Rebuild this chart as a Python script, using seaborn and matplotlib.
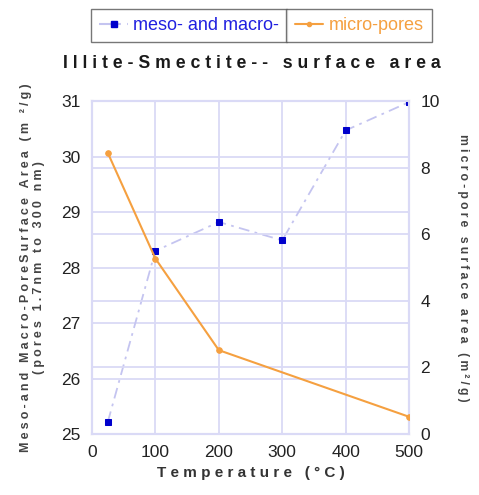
import matplotlib
matplotlib.use("Agg")
import matplotlib.pyplot as plt
import seaborn as sns
from matplotlib.lines import Line2D

# ---------------------------------------------------------
# Data
# ---------------------------------------------------------
temp_meso = [25, 100, 200, 300, 400, 500]
meso_macro_area = [25.22, 28.30, 28.82, 28.49, 30.47, 30.98]

temp_micro = [25, 100, 200, 500]
micro_area = [8.44, 5.27, 2.52, 0.52]

x_ticks = [0, 100, 200, 300, 400, 500]
left_ticks = [25, 26, 27, 28, 29, 30, 31]
right_ticks = [0, 2, 4, 6, 8, 10]

GRID = "#dadaf6"
BLUE = "#0000cc"
BLUE_LINE = "#c4c4f0"
ORANGE = "#f5a040"
FONT = ["Liberation Sans", "DejaVu Sans"]


def spaced(text, sep="\u2009"):
    # the original uses wide letter tracking on titles and labels
    return sep.join(text)


sns.set_theme(style="white")
plt.rcParams["font.family"] = FONT

fig = plt.figure(figsize=(4.79, 4.95), dpi=100)
ax = fig.add_axes([0.192, 0.123, 0.662, 0.673])
ax2 = ax.twinx()

sns.lineplot(x=temp_meso, y=meso_macro_area, ax=ax, color=BLUE_LINE,
             linestyle=(0, (6, 3, 1.5, 3)), linewidth=1.3,
             marker="s", markersize=4.5, markerfacecolor=BLUE,
             markeredgecolor=BLUE, zorder=3)
sns.lineplot(x=temp_micro, y=micro_area, ax=ax2, color=ORANGE,
             linewidth=1.5, marker="o", markersize=4,
             markerfacecolor=ORANGE, markeredgecolor=ORANGE, zorder=3)

ax.set_xlim(0, 500)
ax.set_ylim(25, 31)
ax2.set_ylim(0, 10)
ax.set_xticks(x_ticks)
ax.set_yticks(left_ticks)
ax2.set_yticks(right_ticks)

ax.grid(True, axis="x", color=GRID, linewidth=1.3)
for y in left_ticks[1:-1]:
    ax.axhline(y, color=GRID, linewidth=1.3, zorder=0)
ax2.grid(True, axis="y", color=GRID, linewidth=1.3)
ax.set_axisbelow(True)
ax2.set_axisbelow(True)

for a in (ax, ax2):
    for sp in a.spines.values():
        sp.set_color(GRID)
        sp.set_linewidth(1.5)
    a.tick_params(length=0, labelsize=12.5, labelcolor="#222222", pad=8)

ax.set_xlabel(spaced("Temperature (°C)", " "), fontsize=11,
              fontweight="bold", color="#333333", labelpad=4)
ax.set_ylabel(spaced("Meso-and Macro-PoreSurface Area (m ²/g)", "\u2005") + "\n"
              + spaced("(pores 1.7nm to 300 nm)", "\u2005"),
              fontsize=9, fontweight="bold", color="#444444",
              labelpad=12, linespacing=1.05)
ax2.set_ylabel(spaced("micro-pore surface area (m²/g)", "\u2005"),
               fontsize=8.8, fontweight="bold", color="#444444",
               rotation=-90, labelpad=21)

fig.text(0.526, 0.872, spaced("Illite-Smectite-- surface area", " "),
         ha="center", va="center", fontsize=12.7, fontweight="bold",
         color="#1a1a1a")

# two boxed legend cells side by side
h_meso = Line2D([], [], color=BLUE_LINE, linestyle=(0, (6, 3, 1.5, 3)),
                marker="s", markersize=4, markerfacecolor=BLUE,
                markeredgecolor=BLUE)
h_micro = Line2D([], [], color=ORANGE, marker="o", markersize=3,
                 markerfacecolor=ORANGE, markeredgecolor=ORANGE)
leg_kw = dict(frameon=True, fancybox=False, fontsize=13,
              handlelength=1.6, handletextpad=0.3, borderpad=0.45,
              borderaxespad=0)
leg1 = fig.legend([h_meso], ["meso- and macro-"], loc="upper right",
                  bbox_to_anchor=(0.6, 0.982), labelcolor="#2020e0", **leg_kw)
leg2 = fig.legend([h_micro], ["micro-pores"], loc="upper left",
                  bbox_to_anchor=(0.598, 0.982), labelcolor=ORANGE, **leg_kw)
for leg in (leg1, leg2):
    leg.get_frame().set_edgecolor("#555555")
    leg.get_frame().set_linewidth(1.0)

fig.savefig("out.png", dpi=100)
